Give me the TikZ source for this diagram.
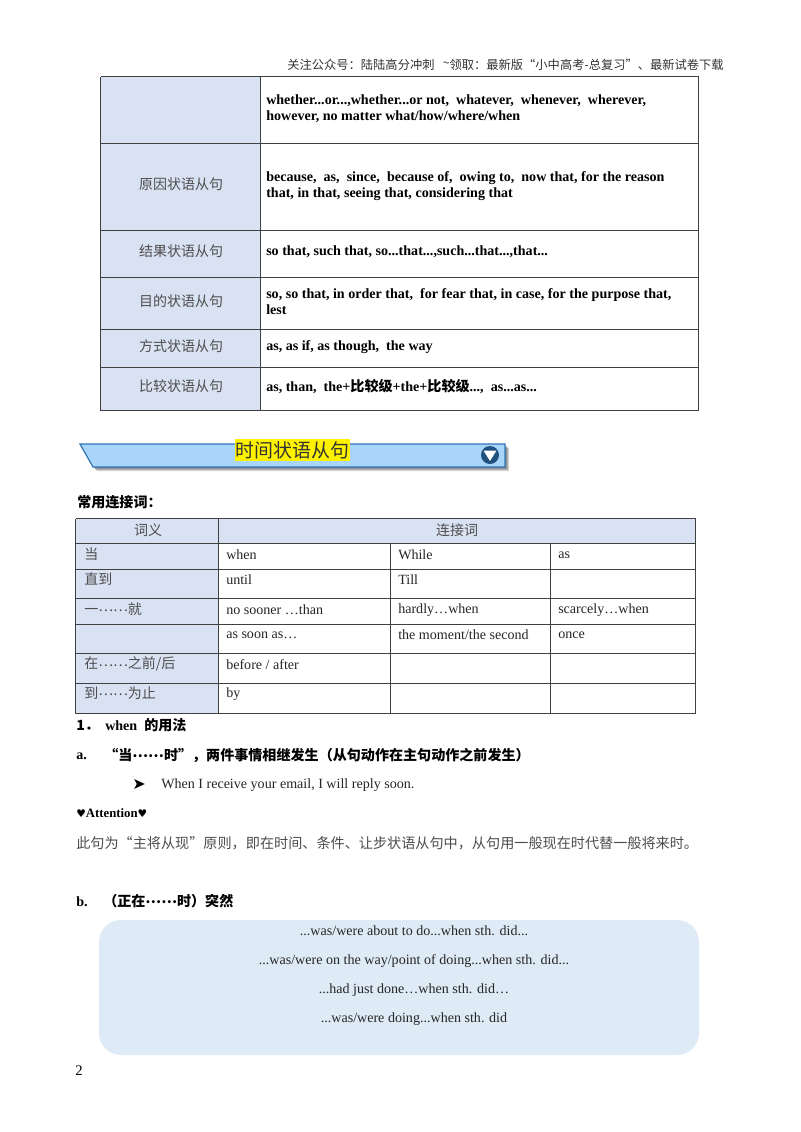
\documentclass[tikz,border=0pt]{standalone}
\usepackage{fontspec}
\setmainfont{Liberation Serif}
\newfontfamily\cjk{Noto Sans CJK SC}
\newfontfamily\sym{DejaVu Sans}
\usetikzlibrary{shapes, arrows, calc, arrows.meta, fit, positioning}
\definecolor{headfill}{HTML}{D9E2F3}
\definecolor{ribbonfill}{HTML}{A9D5FB}
\definecolor{ribbonline}{HTML}{2E75B6}
\definecolor{boxfill}{HTML}{DEEAF6}
\definecolor{gridline}{HTML}{404040}
\definecolor{labelgray}{HTML}{4D4D4D}
\newcommand{\zh}[1]{{\cjk #1}}
\newcommand{\zdots}{\raisebox{0.32ex}{……}}
\tikzset{
    txt/.style = {anchor=west, inner sep=0pt, font=\fontsize{10.55}{12}\selectfont, text=black!85},
    bold/.style = {txt, font=\fontsize{10.55}{12}\selectfont\bfseries, align=left, text=black},
    boldzh/.style = {bold, font=\fontsize{10.55}{12}\selectfont\cjk\bfseries},
    lbl/.style = {inner sep=0pt, font=\fontsize{10.5}{14}\selectfont\cjk, text=labelgray},
    line/.style = {inner sep=0pt, font=\fontsize{10.55}{12}\selectfont, text=black!85},
    grid/.style = {draw=gridline, line width=0.65pt, xshift=-0.15pt, yshift=0.15pt}
}
\begin{document}
\begin{tikzpicture}[x=0.75pt,y=-0.75pt]
  \useasboundingbox[fill=white] (0,0) rectangle (800,1132);

  % header
  \node[anchor=east, inner sep=0pt, font=\fontsize{9.2}{12}\selectfont\cjk, text=black!80] (header) at (724,65)
    {关注公众号：陆陆高分冲刺\ \ \ \raisebox{0.35ex}{\textasciitilde}领取：最新版“小中高考-总复习”、最新试卷下载};

  % upper table
  \fill[headfill] (101,77) rectangle (261,411);
  \foreach \y in {77,144,231,278,330,368,411}
    \draw[grid] (101,\y) -- (699,\y);
  \foreach \x in {101,261,699}
    \draw[grid] (\x,77) -- (\x,411);

  \node[lbl] (u2) at (181,184) {原因状语从句};
  \node[lbl] (u3) at (181,251) {结果状语从句};
  \node[lbl] (u4) at (181,301) {目的状语从句};
  \node[lbl] (u5) at (181,346) {方式状语从句};
  \node[lbl] (u6) at (181,386) {比较状语从句};

  \node[bold] (v1) at (266,108.5) {whether...or...,whether...or not,\ \ whatever,\ \ whenever,\ \ wherever,\\however, no matter what/how/where/when};
  \node[bold] (v2) at (266,186) {because,\ \ as,\ \ since,\ \ because of,\ \ owing to,\ \ now that, for the reason\\that, in that, seeing that, considering that};
  \node[bold] (v3) at (266,252) {so that, such that, so...that...,such...that...,that...};
  \node[bold] (v4) at (266,302) {so, so that, in order that,\ \ for fear that, in case, for the purpose that,\\lest};
  \node[bold] (v5) at (266,347) {as, as if, as though,\ \ the way};
  \node[bold] (v6) at (266,386) {as, than,\ \ the+\zh{比较级}+the+\zh{比较级}...,\ \ as...as...};

  % ribbon
  \foreach \d in {1,2,3,4}
    \fill[black, opacity=.16] ($(80,444)+(\d,\d)$) -- ($(505,444)+(\d,\d)$) -- ($(505,467)+(\d,\d)$) -- ($(93,467)+(\d,\d)$) -- cycle;
  \draw[fill=ribbonfill, draw=ribbonline, line width=0.9pt] (80,444) -- (505,444) -- (505,467) -- (93,467) -- cycle;
  \node[fill=yellow, inner xsep=0.5pt, inner ysep=1.5pt, font=\fontsize{14.2}{16}\selectfont\cjk, text=black!80] (title) at (292.5,450) {时间状语从句};
  \node[circle, fill=ribbonline!70!black, minimum size=13.5pt, inner sep=0pt] (mark) at (490,455) {};
  \fill[white] (483.5,450.5) -- (496.5,450.5) -- (490,461) -- cycle;

  \node[boldzh] (common) at (77,502) {常用连接词：};

  % lower table
  \fill[headfill] (76,519) rectangle (696,544);
  \fill[headfill] (76,544) rectangle (219,714);
  \foreach \y in {519,544,570,599,625,654,684,714}
    \draw[grid] (76,\y) -- (696,\y);
  \foreach \x in {76,219,696}
    \draw[grid] (\x,519) -- (\x,714);
  \foreach \x in {391,551}
    \draw[grid] (\x,544) -- (\x,714);

  \node[lbl] (h1) at (148,530) {词义};
  \node[lbl] (h2) at (457,530) {连接词};
  \node[lbl, anchor=west] (w1) at (84,554) {当};
  \node[lbl, anchor=west] (w2) at (84,579) {直到};
  \node[lbl, anchor=west] (w3) at (84,609) {一\zdots 就};
  \node[lbl, anchor=west] (w5) at (84,664) {在\zdots 之前/后};
  \node[lbl, anchor=west] (w6) at (84,693) {到\zdots 为止};

  \node[txt] (a1) at (226,555) {when};
  \node[txt] (b1) at (398,555) {While};
  \node[txt] (c1) at (558,555) {as};
  \node[txt] (a2) at (226,580) {until};
  \node[txt] (b2) at (398,580) {Till};
  \node[txt] (a3) at (226,610) {no sooner …than};
  \node[txt] (b3) at (398,610) {hardly…when};
  \node[txt] (c3) at (558,610) {scarcely…when};
  \node[txt] (a4) at (226,635) {as soon as…};
  \node[txt] (b4) at (398,635) {the moment/the second};
  \node[txt] (c4) at (558,635) {once};
  \node[txt] (a5) at (226,665) {before / after};
  \node[txt] (a6) at (226,694) {by};

  % usage notes
  \node[boldzh] (n1) at (76,725) {1．};
  \node[bold] (n1t) at (105,725) {when\ \ \zh{的用法}};
  \node[bold] (na) at (76,756) {a.};
  \node[boldzh] (nat) at (104,755) {“当\zdots 时”，两件事情相继发生（从句动作在主句动作之前发生）};
  \node[inner sep=0pt, font=\fontsize{12}{14}\selectfont\sym] (tip) at (139,784) {➤};
  \node[txt] (ex) at (161,785) {When I receive your email, I will reply soon.};
  \node[bold, font=\fontsize{9.6}{12}\selectfont\bfseries] (att) at (76,813.5) {{\sym\fontsize{8}{12}\selectfont ♥}Attention{\sym\fontsize{8}{12}\selectfont ♥}};
  \node[lbl, anchor=west, font=\fontsize{10.6}{14}\selectfont\cjk] (rule) at (76,843) {此句为“主将从现”原则，即在时间、条件、让步状语从句中，从句用一般现在时代替一般将来时。};
  \node[bold] (nb) at (76,902) {b.};
  \node[boldzh] (nbt) at (103,901) {（正在\zdots 时）突然};

  % rounded box
  \fill[boxfill, rounded corners=16.5pt] (99,920) rectangle (699,1055);
  \node[line] (s1) at (414,931) {...was/were about to do...when sth. did...};
  \node[line] (s2) at (414,961) {...was/were on the way/point of doing...when sth. did...};
  \node[line] (s3) at (414,990) {...had just done…when sth. did…};
  \node[line] (s4) at (414,1019) {...was/were doing...when sth. did};

  \node[inner sep=0pt, font=\fontsize{11}{14}\selectfont] (page) at (79,1071) {2};
\end{tikzpicture}
\end{document}
